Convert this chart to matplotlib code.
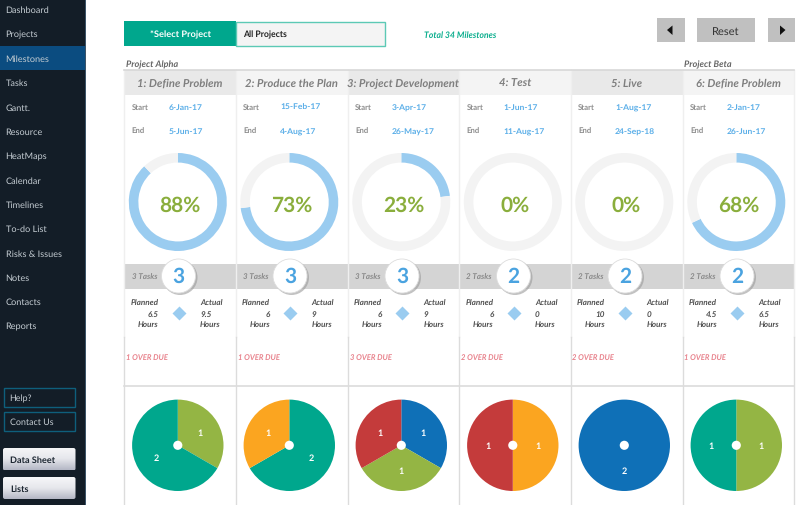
#!/usr/bin/env python3
"""Milestones dashboard: six phase columns with progress rings and task pies."""

import numpy as np
import matplotlib
matplotlib.use('Agg')
import matplotlib.pyplot as plt
from matplotlib.patches import Rectangle, Circle, FancyBboxPatch, Polygon

plt.rcParams['font.family'] = ['Lato', 'DejaVu Sans']
plt.rcParams['text.hinting'] = 'no_hinting'

NAV_ITEMS = ['Dashboard', 'Projects', 'Milestones', 'Tasks', 'Gantt.', 'Resource', 'HeatMaps',
             'Calendar', 'Timelines', 'To-do List', 'Risks & Issues', 'Notes', 'Contacts', 'Reports']
PHASES = ['1: Define Problem', '2: Produce the Plan', '3: Project Development',
          '4: Test', '5: Live', '6: Define Problem']
STARTS = ['6-Jan-17', '15-Feb-17', '3-Apr-17', '1-Jun-17', '1-Aug-17', '2-Jan-17']
ENDS = ['5-Jun-17', '4-Aug-17', '26-May-17', '11-Aug-17', '24-Sep-18', '26-Jun-17']
PROGRESS = [88, 73, 23, 0, 0, 68]
TASKS = [3, 3, 3, 2, 2, 2]
PLANNED = ['6.5', '6', '6', '6', '10', '4.5']
ACTUAL = ['9.5', '9', '9', '0', '0', '6.5']
OVERDUE = [1, 1, 3, 2, 2, 1]
# task counts per status, clockwise from 12 o'clock
PIE_VALUES = [[1, 2], [2, 1], [1, 1, 1], [1, 1], [2], [1, 1]]
PIE_STATUS = [['olive', 'teal'], ['teal', 'orange'], ['blue', 'olive', 'red'],
              ['orange', 'red'], ['blue'], ['olive', 'teal']]

STATUS_COLORS = {'olive': '#94b544', 'teal': '#00a78d', 'orange': '#fba520',
                 'blue': '#0f70b7', 'red': '#c43b3b'}
EDGES = [124, 235.5, 347.5, 459, 570.5, 682.5, 793.5]
BLUE = '#5aaee8'
RING = '#9accf0'
GREEN = '#8aae3c'
GRID = '#dcdcdc'
GRID_LIGHT = '#efefef'

W, H = 800, 506
fig = plt.figure(figsize=(W / 100, H / 100), dpi=100, facecolor='white')
ax = fig.add_axes([0, 0, 1, 1])
ax.set_xlim(0, W)
ax.set_ylim(H, 0)
ax.axis('off')


def rect(x0, y0, x1, y1, color, **kw):
    ax.add_patch(Rectangle((x0, y0), x1 - x0, y1 - y0, facecolor=color,
                           edgecolor=kw.pop('edgecolor', 'none'), **kw))


def label(x, y, s, size, color='#404040', ha='left', **kw):
    return ax.text(x, y, s, fontsize=size, color=color, ha=ha, va='center', **kw)


def px_axes(cx, cy, r):
    a = fig.add_axes([(cx - r) / W, 1 - (cy + r) / H, 2 * r / W, 2 * r / H])
    return a


def gradient_button(x0, y0, x1, y1, s):
    patch = FancyBboxPatch((x0 + 1, y0 + 1), x1 - x0 - 2, y1 - y0 - 2,
                           boxstyle='round,pad=1,rounding_size=2',
                           facecolor='none', edgecolor='none')
    ax.add_patch(patch)
    grad = np.linspace(0, 1, 32).reshape(-1, 1)
    im = ax.imshow(grad, extent=(x0, x1, y1, y0), aspect='auto', zorder=2,
                   cmap=matplotlib.colors.LinearSegmentedColormap.from_list(
                       'btn', ['#f6f6f8', '#e6e7ec', '#b5b8c6']))
    im.set_clip_path(patch)
    label(x0 + 7, (y0 + y1) / 2, s, 6.6, color='#1b2530', fontweight='bold', zorder=3)


# sidebar
rect(0, 0, 85, H, '#131d27')
rect(85, 0, 86, H, '#3c5468')
rect(0, 46.5, 85, 71, '#0b4c80')
for i, item in enumerate(NAV_ITEMS):
    label(5.5, 10.5 + i * 24.35, item, 6.6, color='#c4ccd2')
for y0, y1, s in [(389, 408, 'Help?'), (413, 432, 'Contact Us')]:
    rect(3.5, y0, 75, y1, 'none', edgecolor='#0e5f7c', linewidth=1)
    label(9.5, (y0 + y1) / 2, s, 6.4, color='#c4ccd2')
gradient_button(3, 449, 75.5, 471.5, 'Data Sheet')
gradient_button(3, 478, 75.5, 500, 'Lists')
ax.set_xlim(0, W)
ax.set_ylim(H, 0)

# top controls
rect(124, 22, 235.5, 47, '#00a78d')
rect(235.5, 22.5, 384.5, 46.5, '#f4f4f4', edgecolor='#5cc9b5', linewidth=1)
label(180.5, 35, '*Select Project', 6.7, color='white', ha='center', fontweight='bold')
label(243, 34.5, 'All Projects', 6.2, color='#222222', fontweight='bold')
label(424, 35, 'Total 34 Milestones', 6.2, color='#0cae8e', fontweight='bold', style='italic')
for x0, x1 in [(657, 685), (697, 755), (768, 795)]:
    rect(x0, 19, x1, 43, '#c0c0c0')
label(726, 31.5, 'Reset', 8, color='#333333', ha='center')
ax.add_patch(Polygon([(667, 31), (672.5, 26.5), (672.5, 36)], facecolor='#111111'))
ax.add_patch(Polygon([(785.5, 31), (780, 26.5), (780, 36)], facecolor='#111111'))
label(126, 64.5, 'Project Alpha', 6.6, color='#666666', fontweight='bold', style='italic')
label(684, 64.5, 'Project Beta', 6.6, color='#666666', fontweight='bold', style='italic')

# columns
for i, phase in enumerate(PHASES):
    x0, x1 = EDGES[i], EDGES[i + 1]
    cx = x0 + 54
    rect(x0, 71, x1, 96, '#e9e9e9' if i % 2 == 0 else '#f4f4f4')
    rect(x0, 265, x1, 290, '#d4d4d4')
    head = label((x0 + x1) / 2, 83.5, phase, 8.1, color='#7f7f7f', ha='center',
                 fontweight='bold', style='italic')
    head.set_clip_path(Rectangle((x0, 71), x1 - x0, 25, transform=ax.transData))

    label(x0 + 7.5, 108, 'Start', 5.6, color='#8c8c8c', fontweight='bold')
    label(x0 + 7.5, 132, 'End', 5.6, color='#8c8c8c', fontweight='bold')
    label(x0 + 44.5, 108, STARTS[i], 6.1, color=BLUE, fontweight='bold')
    label(x0 + 44.5, 132, ENDS[i], 6.1, color=BLUE, fontweight='bold')

    # progress ring
    ring = px_axes(cx - 0.2, 203, 49)
    ring.pie([PROGRESS[i], 100 - PROGRESS[i]], colors=[RING, '#f3f3f3'], startangle=90,
             counterclock=False, radius=1, wedgeprops=dict(width=0.195))
    ring.set_xlim(-1, 1)
    ring.set_ylim(-1, 1)
    label(cx + 2, 205.5, f'{PROGRESS[i]}%', 15, color=GREEN, ha='center', fontweight='bold', zorder=6)

    # task count badge
    label(x0 + 7.5, 278, f'{TASKS[i]} Tasks', 5.8, color='#8a8a8a', style='italic', fontweight='bold')
    ax.add_patch(Circle((cx + 2, 278.5), 17.5, facecolor='#9a9a9a', edgecolor='none', alpha=0.6, zorder=3))
    ax.add_patch(Circle((cx + 0.5, 277), 17, facecolor='white', edgecolor='#dddddd', linewidth=0.6, zorder=4))
    label(cx + 0.5, 277, str(TASKS[i]), 15, color='#4aa3e0', ha='center', fontweight='bold', zorder=5)

    # planned vs actual
    for y, left, right in [(304, 'Planned', 'Actual'), (314.5, PLANNED[i], ACTUAL[i]), (325, 'Hours', 'Hours')]:
        label(x0 + 34.5, y, left, 5.9, color='#505050', ha='right', fontweight='bold', style='italic')
        label(x0 + 76, y, right, 5.9, color='#505050', fontweight='bold', style='italic')
    ax.plot([cx + 0.5], [314], marker='D', markersize=7.5, color=RING, markeredgecolor='none')

    label(x0 + 2, 358, f'{OVERDUE[i]} OVER DUE', 5.5, color='#e8828c', fontweight='bold', style='italic')

    # task pie
    pie_ax = px_axes(cx - 0.2, 446.3, 45.7)
    pie_ax.pie(PIE_VALUES[i], colors=[STATUS_COLORS[s] for s in PIE_STATUS[i]],
               labels=[str(v) for v in PIE_VALUES[i]], labeldistance=0.55,
               startangle=90, counterclock=False, radius=1,
               textprops=dict(color='white', fontsize=6.5, fontweight='bold', ha='center', va='center'))
    pie_ax.set_xlim(-1, 1)
    pie_ax.set_ylim(-1, 1)
    pie_ax.add_patch(Circle((0, 0), 0.1, facecolor='white', edgecolor='none', zorder=5))

# grid lines
for x in EDGES:
    ax.plot([x, x], [71, 338], color=GRID_LIGHT, linewidth=1, zorder=1.5)
    ax.plot([x, x], [338, H], color=GRID, linewidth=1, zorder=1.5)
ax.plot([EDGES[0], EDGES[-1]], [71, 71], color='#d8d8d8', linewidth=1.2)
ax.plot([EDGES[0], EDGES[-1]], [387, 387], color=GRID, linewidth=1.2)

fig.savefig('out.png', dpi=100)
